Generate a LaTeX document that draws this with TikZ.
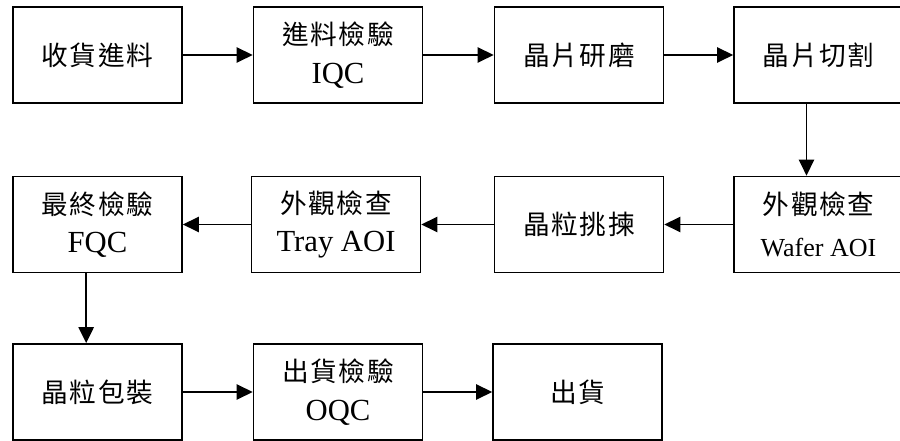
\documentclass[tikz,border=0pt]{standalone}
\usepackage{fontspec}
\setmainfont{Liberation Serif}
\newfontfamily\cjk[Scale=0.87,LetterSpace=6]{Noto Sans CJK TC}
\usetikzlibrary{arrows.meta}

\tikzset{
    stepbox/.style={draw, line width=1.3pt, minimum width=126.75pt, minimum height=72pt,
        inner sep=0pt, align=center, font=\fontsize{23}{29}\selectfont},
    flow/.style={-{Triangle[length=12pt,width=11.5pt]}, line width=1.2pt}
}

\begin{document}
\begin{tikzpicture}[x=0.75pt,y=-0.75pt]
        \useasboundingbox (0,0) rectangle (900,441);
        % First row
        \node[stepbox] (recv) at (97.5,55) {\cjk 收貨進料};
        \node[stepbox] (iqc) at (338,55) {{\cjk 進料檢驗}\\IQC};
        \node[stepbox] (grind) at (579,55) {\cjk 晶片研磨};
        \node[stepbox] (saw) at (818.5,55) {\cjk 晶片切割};
        % Second row
        \node[stepbox] (fqc) at (97.5,224.5) {{\cjk 最終檢驗}\\FQC};
        \node[stepbox] (trayaoi) at (336,224.5) {{\cjk 外觀檢查}\\Tray AOI};
        \node[stepbox] (sort) at (579,224.5) {\cjk 晶粒挑揀};
        \node[stepbox] (waferaoi) at (818.5,224.5) {{\cjk 外觀檢查}\\[3pt]{\fontsize{19.5}{29}\selectfont Wafer AOI}};
        % Third row
        \node[stepbox] (pack) at (97.5,392) {\cjk 晶粒包裝};
        \node[stepbox] (oqc) at (338,392) {{\cjk 出貨檢驗}\\OQC};
        \node[stepbox] (ship) at (577.5,392) {\cjk 出貨};
        % Arrows
        \draw[flow] (recv) -- (iqc);
        \draw[flow] (iqc) -- (grind);
        \draw[flow] (grind) -- (saw);
        \draw[flow] ([xshift=-9pt]saw.south) -- ([xshift=-9pt]waferaoi.north);
        \draw[flow] (waferaoi) -- (sort);
        \draw[flow] (sort) -- (trayaoi);
        \draw[flow] (trayaoi) -- (fqc);
        \draw[flow] ([xshift=-8.5pt]fqc.south) -- ([xshift=-8.5pt]pack.north);
        \draw[flow] (pack) -- (oqc);
        \draw[flow] (oqc) -- (ship);
    \end{tikzpicture}
\end{document}
